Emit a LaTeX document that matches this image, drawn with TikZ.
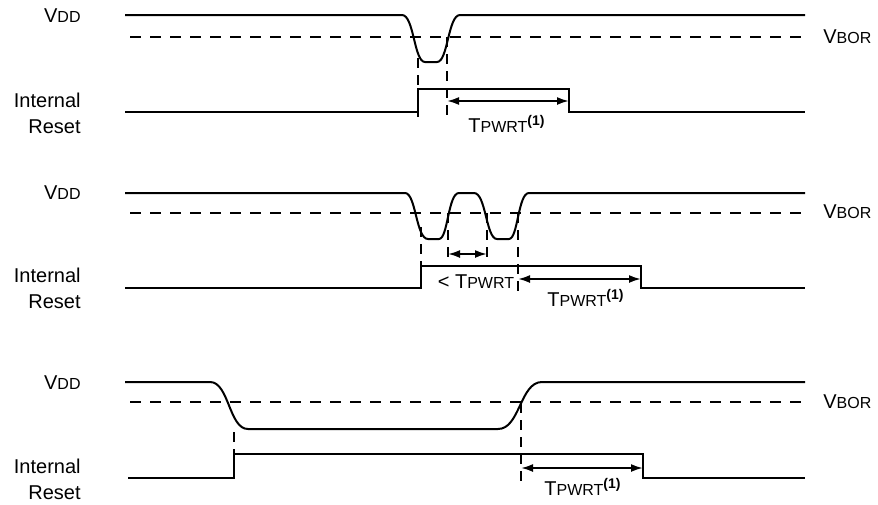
\documentclass[tikz,border=0pt]{standalone}
\usepackage{fontspec}
\setmainfont{Liberation Sans}
\usetikzlibrary{arrows.meta}

\newcommand{\petit}[1]{{\fontsize{8}{9}\selectfont #1}}
\newcommand{\Vdd}{V\petit{DD}}
\newcommand{\Vbor}{V\petit{BOR}}
\newcommand{\Tpwrt}{T\petit{PWRT}}

\begin{document}
\begin{tikzpicture}[x=0.5pt,y=-0.5pt,
    font=\fontsize{10}{13}\selectfont,
    alim/.style={line width=1pt},
    sortie/.style={line width=1.4pt},
    seuil/.style={line width=1pt, dash pattern=on 5.5pt off 4.5pt},
    repere/.style={line width=1pt, dash pattern=on 5pt off 3.5pt},
    duree/.style={line width=1pt, {Latex[length=6pt,width=4pt]}-{Latex[length=6pt,width=4pt]}},
    etiq/.style={anchor=east, align=right, inner sep=0pt},
    niveau/.style={anchor=west, inner sep=0pt}]
  \useasboundingbox (0,0) rectangle (878,504);

  % Chute courte
  \draw[alim] (125,15) -- (402,15) .. controls (414,15) and (414,62) .. (425,62) -- (437,62)
    .. controls (448,62) and (448,15) .. (460,15) -- (805,15);
  \draw[seuil] (130,37) -- (805,37);
  \draw[repere] (418,58) -- (418,117);
  \draw[repere] (447,37) -- (447,117);
  \draw[sortie] (125,112) -- (418,112) -- (418,89) -- (569,89) -- (569,112) -- (805,112);
  \draw[duree] (447,101) -- (569,101);
  \node[etiq] (vddA) at (81,16) {\Vdd};
  \node[etiq] (rstA) at (81,113) {Internal\\Reset};
  \node[niveau] (borA) at (823,37) {\Vbor};
  \node[inner sep=0pt] (tA) at (507,124) {\Tpwrt\textsuperscript{\textbf{(1)}}};

  % Deux chutes rapprochees
  \draw[alim] (125,193) -- (405,193) .. controls (416,193) and (416,239) .. (428,239) -- (439,239)
    .. controls (448,239) and (448,193) .. (459,193) -- (474,193)
    .. controls (486,193) and (486,239) .. (497,239) -- (509,239)
    .. controls (518,239) and (518,193) .. (529,193) -- (805,193);
  \draw[seuil] (130,213) -- (805,213);
  \draw[repere] (421,227) -- (421,290);
  \draw[repere] (448,213) -- (448,262);
  \draw[repere] (487,213) -- (487,262);
  \draw[repere] (518,213) -- (518,296);
  \draw[sortie] (125,288) -- (421,288) -- (421,266) -- (641,266) -- (641,288) -- (805,288);
  \draw[duree] (448,254) -- (487,254);
  \draw[duree] (518,279) -- (641,279);
  \node[etiq] (vddB) at (81,193) {\Vdd};
  \node[etiq] (rstB) at (81,288) {Internal\\Reset};
  \node[niveau] (borB) at (823,212) {\Vbor};
  \node[inner sep=0pt] (tmoins) at (476,282) {< \Tpwrt};
  \node[inner sep=0pt] (tB) at (586,298) {\Tpwrt\textsuperscript{\textbf{(1)}}};

  % Chute longue
  \draw[alim] (125,382) -- (210,382) .. controls (229,382) and (229,429) .. (248,429) -- (498,429)
    .. controls (520,429) and (520,382) .. (542,382) -- (805,382);
  \draw[seuil] (130,402) -- (805,402);
  \draw[repere] (234,432) -- (234,478);
  \draw[repere] (521,403) -- (521,482);
  \draw[sortie] (128,478) -- (234,478) -- (234,454) -- (643,454) -- (643,478) -- (805,478);
  \draw[duree] (521,468) -- (643,468);
  \node[etiq] (vddC) at (81,383) {\Vdd};
  \node[etiq] (rstC) at (81,479) {Internal\\Reset};
  \node[niveau] (borC) at (823,402) {\Vbor};
  \node[inner sep=0pt] (tC) at (583,487) {\Tpwrt\textsuperscript{\textbf{(1)}}};
\end{tikzpicture}
\end{document}
